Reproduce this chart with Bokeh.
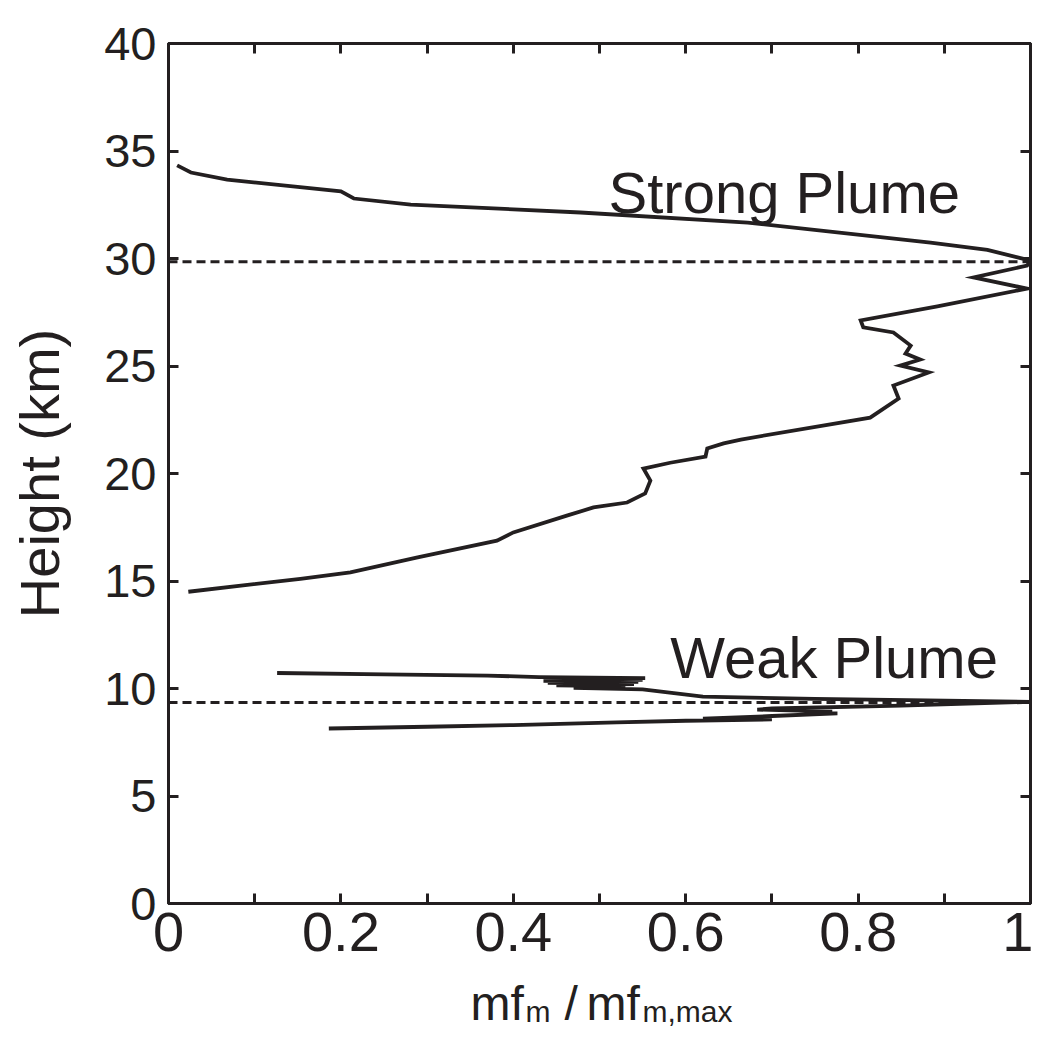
from bokeh.plotting import figure
from bokeh.layouts import column
from bokeh.models import Range1d, LinearAxis, FixedTicker, CustomJSTickFormatter, Label, ColumnDataSource
from bokeh.core.properties import value
from bokeh.embed import file_html
from bokeh.resources import INLINE

# ---------------- data ----------------
strong_x = [0.023, 0.153, 0.211, 0.289, 0.381, 0.400, 0.463, 0.493, 0.532, 0.553, 0.559, 0.551,
            0.582, 0.623, 0.625, 0.644, 0.664, 0.814, 0.847, 0.841, 0.882, 0.849, 0.872, 0.855,
            0.861, 0.841, 0.806, 0.803, 0.892, 0.996, 0.934, 0.996, 1.000, 0.985, 0.950, 0.884,
            0.672, 0.478, 0.281, 0.215, 0.200, 0.068, 0.026, 0.010]
strong_h = [14.50, 15.10, 15.40, 16.10, 16.88, 17.26, 18.05, 18.42, 18.65, 19.07, 19.67, 20.23,
            20.50, 20.79, 21.16, 21.40, 21.58, 22.60, 23.49, 24.09, 24.70, 25.02, 25.30, 25.58,
            25.95, 26.56, 26.80, 27.12, 27.77, 28.60, 29.12, 29.67, 29.90, 30.05, 30.40, 30.74,
            31.67, 32.14, 32.51, 32.79, 33.12, 33.67, 34.00, 34.33]

weak_x = [0.126, 0.250, 0.370, 0.430, 0.553, 0.440, 0.550, 0.435, 0.545, 0.440, 0.540, 0.450,
          0.530, 0.470, 0.550, 0.620, 0.750, 0.880, 1.000, 0.850, 0.700, 0.683, 0.770, 0.740,
          0.776, 0.700, 0.620, 0.700, 0.600, 0.520, 0.400, 0.300, 0.186]
weak_h = [10.72, 10.66, 10.60, 10.53, 10.48, 10.44, 10.40, 10.35, 10.31, 10.26, 10.21, 10.15,
          10.10, 10.03, 9.96, 9.62, 9.52, 9.45, 9.38, 9.20, 9.07, 9.02, 8.92, 8.88,
          8.84, 8.72, 8.60, 8.56, 8.50, 8.42, 8.30, 8.22, 8.14]

peak_heights = [29.85, 9.35]
x_ticks = [0, 0.2, 0.4, 0.6, 0.8, 1]
x_minor = [0.1, 0.3, 0.5, 0.7, 0.9]
y_ticks = [0, 5, 10, 15, 20, 25, 30, 35, 40]
plume_names = ["Strong Plume", "Weak Plume"]
xlabel_parts = ["mf", "m", "/", "mf", "m,max"]

INK = "#231f20"
FONT = "Liberation Sans"

p = figure(output_backend="svg", toolbar_location=None,
           frame_width=862, frame_height=860,
           min_border_left=168, min_border_top=43, min_border_right=3, min_border_bottom=75,
           x_range=Range1d(0, 1), y_range=Range1d(0, 40))
p.background_fill_color = "white"
p.border_fill_color = "white"
p.grid.visible = False
p.outline_line_color = INK
p.outline_line_width = 3

fmt = CustomJSTickFormatter(code="return (Math.round(tick*10)/10).toString();")

def style_axis(ax, ticks, minor, show_labels):
    ax.ticker = FixedTicker(ticks=ticks, minor_ticks=minor)
    ax.axis_line_color = INK
    ax.axis_line_width = 3
    ax.major_tick_in = 10
    ax.major_tick_out = 0
    ax.minor_tick_in = 10
    ax.minor_tick_out = 0
    ax.major_tick_line_color = INK
    ax.major_tick_line_width = 3
    ax.minor_tick_line_color = INK
    ax.minor_tick_line_width = 3
    if not show_labels:
        ax.major_label_text_font_size = "1px"
        ax.major_label_text_color = None
        ax.major_label_standoff = 0

style_axis(p.xaxis[0], x_ticks, x_minor, True)
p.xaxis[0].formatter = fmt
p.xaxis[0].major_label_text_font = FONT
p.xaxis[0].major_label_text_font_size = "56px"
p.xaxis[0].major_label_text_color = INK
p.xaxis[0].major_label_standoff = 9

style_axis(p.yaxis[0], y_ticks, [], True)
p.yaxis[0].major_label_text_font = FONT
p.yaxis[0].major_label_text_font_size = "47px"
p.yaxis[0].major_label_text_color = INK
p.yaxis[0].major_label_standoff = 12
p.yaxis[0].axis_label = "Height (km)"
p.yaxis[0].axis_label_text_font = FONT
p.yaxis[0].axis_label_text_font_size = "56px"
p.yaxis[0].axis_label_text_font_style = "normal"
p.yaxis[0].axis_label_text_color = INK
p.yaxis[0].axis_label_standoff = 30

top = LinearAxis()
style_axis(top, x_ticks, x_minor, False)
p.add_layout(top, "above")
right = LinearAxis()
style_axis(right, y_ticks, [], False)
p.add_layout(right, "right")

# dashed peak lines
for h in peak_heights:
    p.line([0, 1], [h, h], line_color=INK, line_width=3.2, line_dash="9 5")

p.line(strong_x, strong_h, line_color=INK, line_width=3.8, line_join="miter")
p.line(weak_x, weak_h, line_color=INK, line_width=3.8, line_join="miter")

# plume labels
p.add_layout(Label(x=0.5105, y=33.07, text=plume_names[0], text_font=FONT,
                   text_font_size="58px", text_color=INK, text_baseline="alphabetic"))
p.add_layout(Label(x=0.582, y=11.45, text=plume_names[1], text_font=FONT,
                   text_font_size="58px", text_color=INK, text_baseline="alphabetic"))

# x axis label (with subscripts) in a strip under the plot sharing the x range
p2 = figure(output_backend="svg", toolbar_location=None,
            frame_width=862, frame_height=60,
            min_border_left=168, min_border_right=3, min_border_top=0, min_border_bottom=0,
            x_range=p.x_range, y_range=Range1d(0, 60),
            x_axis_type=None, y_axis_type=None)
p2.grid.visible = False
p2.outline_line_color = None
p2.background_fill_color = "white"
p2.border_fill_color = "white"

lab_src = ColumnDataSource(dict(
    x=[0.3503, 0.4142, 0.4594, 0.4849, 0.5499],
    y=[35, 27, 35, 35, 27],
    text=xlabel_parts,
    size=["48px", "30px", "48px", "48px", "30px"],
))
p2.text(x="x", y="y", text="text", source=lab_src, text_font=value(FONT),
        text_font_size="size", text_color=INK, text_baseline="alphabetic", text_align="left")

layout = column(p, p2, spacing=0)
open("out.html", "w").write(file_html(layout, INLINE))
